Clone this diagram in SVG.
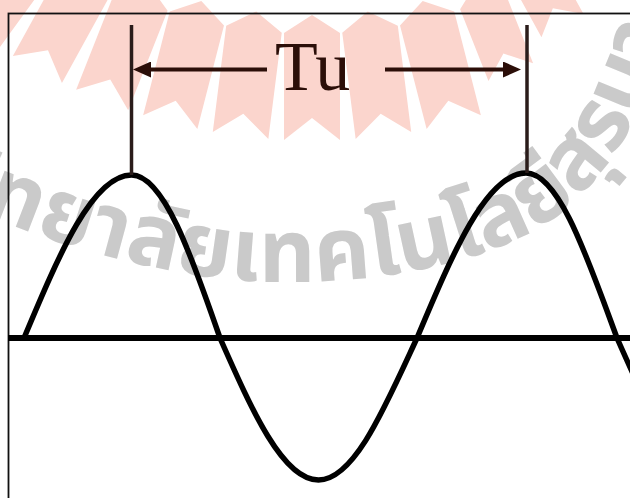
<svg xmlns="http://www.w3.org/2000/svg" width="630" height="498" viewBox="0 0 630 498">
<style>
.ray{fill:#fbd5cd}
.wm{font-family:"Noto Sans Thai","Noto Sans","DejaVu Sans",sans-serif;font-weight:bold;font-size:88px;fill:#cacaca}
.frame{fill:none;stroke:#111;stroke-width:1.8}
.axis{stroke:#000;stroke-width:6}
.wave{fill:none;stroke:#000;stroke-width:5.5;stroke-linecap:round}
.tick{stroke:#2a1c1a;stroke-width:3.5}
.dim{stroke:#2b0e08;stroke-width:4}
.lbl{font-family:"Liberation Serif","Times New Roman",serif;font-size:70px;fill:#2b0e08}
</style>
<defs>
<marker id="ah" viewBox="0 -8 18 16" refX="8" refY="0" markerWidth="18" markerHeight="16" markerUnits="userSpaceOnUse" orient="auto"><path d="M0,-8 L18,0 L0,8 z" fill="#2b0e08"/></marker>
<polygon id="ray" class="ray" points="312,15 340,33 340,140 312,118 284,140 284,33"/>
<polygon id="rayS" class="ray" points="312,15 336,33 336,110 312,90 288,110 288,33"/>
<path id="arc" d="M-80,185 C30,240 170,283 290,282 C420,281 520,250 570,205 C610,170 640,120 665,40"/>
</defs>
<rect width="630" height="498" fill="#fff"/>
<g id="watermark">
<use href="#ray" transform="rotate(36 312 -430)"/>
<use href="#ray" transform="rotate(28.8 312 -430)"/>
<use href="#ray" transform="rotate(21.6 312 -430)"/>
<use href="#ray" transform="rotate(14.4 312 -430)"/>
<use href="#ray" transform="rotate(7.2 312 -430)"/>
<use href="#ray"/>
<use href="#ray" transform="rotate(-7.2 312 -430)"/>
<use href="#ray" transform="rotate(-14.4 312 -430)"/>
<use href="#rayS" transform="rotate(-21.6 312 -430)"/>
<use href="#rayS" transform="rotate(-28.8 312 -430) translate(0 -20)"/>
<text class="wm"><textPath href="#arc" startOffset="22">วิทยาลัยเทคโนโลยีสุรนารี</textPath></text>
</g>
<g id="frame"><rect class="frame" x="8.5" y="13.5" width="700" height="600"/></g>
<g id="axis"><line class="axis" x1="8" y1="338" x2="630" y2="338"/></g>
<g id="wave"><path class="wave" d="M24,338 C59,254.5 92.6,175 131.5,175 C163.5,175 191.1,254.5 220,338 C252.1,410.7 282.8,480 318.5,480 C354.2,480 384.9,407.3 417,338 C452.5,253.5 486.5,173 526,173 C558.9,173 587.3,257.5 617,338 C649.1,410.7 679.8,480 715.5,480"/></g>
<g id="tick-left"><line class="tick" x1="131.5" y1="25" x2="131.5" y2="175"/></g>
<g id="tick-right"><line class="tick" x1="527" y1="25" x2="527" y2="173"/></g>
<g id="label-Tu"><text class="lbl" x="275" y="90">Tu</text></g>
<g id="connectors">
<line class="dim" x1="267" y1="69.5" x2="143" y2="69.5" marker-end="url(#ah)"/>
<line class="dim" x1="385" y1="69.5" x2="511" y2="69.5" marker-end="url(#ah)"/>
</g>
</svg>
